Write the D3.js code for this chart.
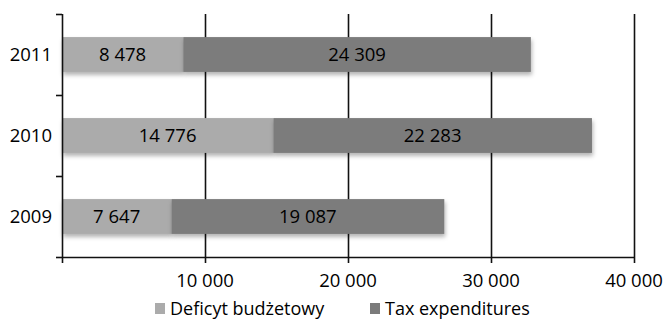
<!DOCTYPE html>
<html>
<head>
<meta charset="utf-8">
<script src="https://cdn.jsdelivr.net/npm/d3@7"></script>
<style>
	body { margin: 0; background: #fff; }
	svg text { font-family: "Open Sans", sans-serif; fill: #000; }
</style>
</head>
<body>
<svg id="chart" width="663" height="322"></svg>
<script>
const years = ["2011", "2010", "2009"];
const deficit = [8478, 14776, 7647];
const taxExp = [24309, 22283, 19087];
const xTicks = [10000, 20000, 30000, 40000];
const seriesNames = ["Deficyt budżetowy", "Tax expenditures"];
const seriesColours = ["#ababab", "#7b7b7b"];

var svg = d3.select("#chart");
var margin = { left: 62, right: 29, top: 14, bottom: 65 };
var width = 663 - margin.left - margin.right;
var height = 322 - margin.top - margin.bottom;

// format 14776 -> "14 776"
var fmt = d => d3.format(",")(d).replace(/,/g, " ");

var x = d3.scaleLinear().domain([0, 40000]).range([0, width]);
var y = d3.scaleBand().domain(years).range([0, height]).paddingInner(0.57).paddingOuter(0.285);
var yEdges = d3.scaleLinear().domain([0, years.length]).range([0, height]);

// drop shadow for bars
var defs = svg.append("defs");
var shadow = defs.append("filter").attr("id", "shadow")
	.attr("x", "-5%").attr("y", "-20%").attr("width", "110%").attr("height", "160%");
shadow.append("feDropShadow")
	.attr("dx", 1).attr("dy", 3).attr("stdDeviation", 2)
	.attr("flood-color", "#000").attr("flood-opacity", 0.3);

var g = svg.append("g").attr("transform", `translate(${margin.left},${margin.top})`);

// vertical grid lines
g.append("g").selectAll("line")
	.data(xTicks)
	.enter().append("line")
	.attr("x1", d => Math.round(x(d)) + 0.5)
	.attr("x2", d => Math.round(x(d)) + 0.5)
	.attr("y1", 0).attr("y2", height)
	.attr("stroke", "#111").attr("stroke-width", 1.6);

// stacked bars
var rows = years.map((yr, i) => ({ year: yr, parts: [deficit[i], taxExp[i]] }));

var rowG = g.append("g").selectAll("g")
	.data(rows)
	.enter().append("g")
	.attr("transform", d => `translate(0,${y(d.year)})`);

rowG.each(function(d) {
	var sel = d3.select(this);
	var start = 0;
	d.parts.forEach((v, k) => {
		sel.append("rect")
			.attr("x", x(start))
			.attr("y", 0)
			.attr("width", x(start + v) - x(start))
			.attr("height", y.bandwidth())
			.attr("fill", seriesColours[k])
			.attr("filter", "url(#shadow)");
		start += v;
	});
	start = 0;
	d.parts.forEach((v, k) => {
		sel.append("text")
			.attr("x", x(start + v / 2))
			.attr("y", y.bandwidth() / 2)
			.attr("dy", "0.36em")
			.attr("text-anchor", "middle")
			.attr("font-size", 18.5)
			.text(fmt(v));
		start += v;
	});
});

// x axis
var xAxis = g.append("g").attr("transform", `translate(0,${height})`);
xAxis.append("line")
	.attr("x1", 0).attr("x2", width + 1)
	.attr("y1", 0.5).attr("y2", 0.5)
	.attr("stroke", "#111").attr("stroke-width", 1.6);
xAxis.selectAll(".tick")
	.data([0].concat(xTicks))
	.enter().append("line")
	.attr("x1", d => Math.round(x(d)) + 0.5)
	.attr("x2", d => Math.round(x(d)) + 0.5)
	.attr("y1", 0).attr("y2", 6)
	.attr("stroke", "#111").attr("stroke-width", 1.6);
xAxis.selectAll("text")
	.data(xTicks)
	.enter().append("text")
	.attr("x", d => x(d))
	.attr("y", 23)
	.attr("dy", "0.36em")
	.attr("text-anchor", "middle")
	.attr("font-size", 18.5)
	.text(fmt);

// y axis
var yAxis = g.append("g");
yAxis.append("line")
	.attr("x1", 0.5).attr("x2", 0.5)
	.attr("y1", 0).attr("y2", height)
	.attr("stroke", "#111").attr("stroke-width", 1.6);
yAxis.selectAll(".tick")
	.data(d3.range(years.length + 1))
	.enter().append("line")
	.attr("x1", -6).attr("x2", 0)
	.attr("y1", d => Math.round(yEdges(d)) + 0.5)
	.attr("y2", d => Math.round(yEdges(d)) + 0.5)
	.attr("stroke", "#111").attr("stroke-width", 1.6);
yAxis.selectAll("text")
	.data(years)
	.enter().append("text")
	.attr("x", -10)
	.attr("y", d => y(d) + y.bandwidth() / 2)
	.attr("dy", "0.36em")
	.attr("text-anchor", "end")
	.attr("font-size", 18.5)
	.text(d => d);

// legend (kept just inside the bottom edge)
var legendX = [155, 370];
var legend = svg.append("g").selectAll("g")
	.data(seriesNames)
	.enter().append("g")
	.attr("transform", (d, i) => `translate(${legendX[i]},303)`);
legend.append("rect")
	.attr("x", 0).attr("y", 0)
	.attr("width", 10).attr("height", 11)
	.attr("fill", (d, i) => seriesColours[i]);
legend.append("text")
	.attr("x", 15).attr("y", 6)
	.attr("dy", "0.36em")
	.attr("font-size", 18)
	.text(d => d);
</script>
</body>
</html>
